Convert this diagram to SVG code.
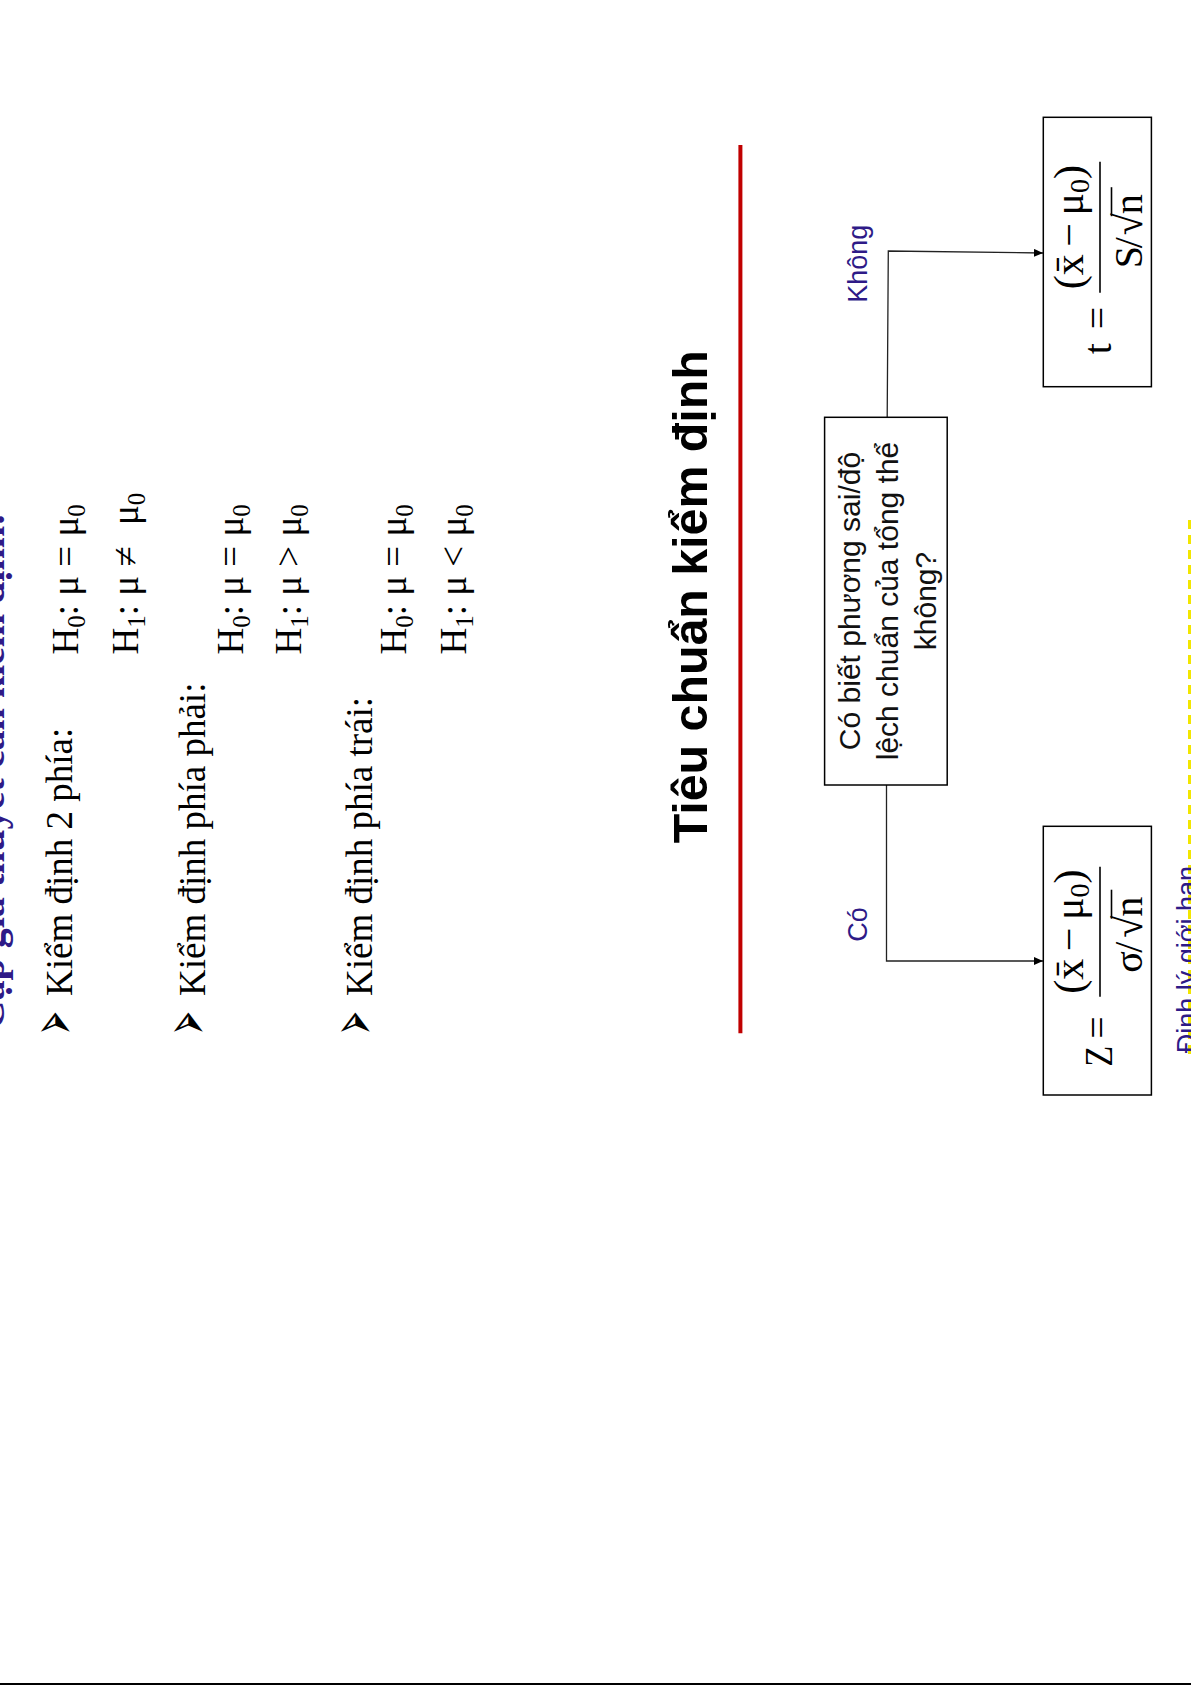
<svg xmlns="http://www.w3.org/2000/svg" width="1191" height="1685" viewBox="0 0 1191 1685">
<style>
.ser{font-family:"Liberation Serif","Times New Roman",serif;fill:#000}
.hyp{font-size:37px}
.sub{font-size:25px}
.sans{font-family:"Liberation Sans",Arial,sans-serif}
.blue{fill:#2E1A87}
.box{fill:#fff;stroke:#000;stroke-width:1.5}
.conn{fill:none;stroke:#222;stroke-width:1.3}
.math{font-family:"Liberation Serif","DejaVu Serif",serif;font-size:40px;fill:#000}
.num{font-size:42px}
.msub{font-size:28px}
.bar{stroke:#000;stroke-width:1.6}
.lbl{font-size:27px}
.q{font-size:30px;fill:#111}
.bul{font-family:"DejaVu Sans",sans-serif;font-size:66px;fill:#000}
</style>
<defs>
<marker id="ah" markerWidth="9" markerHeight="8" refX="9" refY="4" orient="auto" markerUnits="userSpaceOnUse"><path d="M0,0 L9,4 L0,8 Z" fill="#000"/></marker>
</defs>
<rect width="1191" height="1685" fill="#fff"/>

<g id="heading">
<text class="ser blue" font-weight="bold" font-size="40" transform="translate(4,1029.5) rotate(-90)">Cặp giả thuyết cần kiểm định:</text>
</g>

<g id="two-sided">
<text class="bul" textLength="24" lengthAdjust="spacingAndGlyphs" transform="translate(75.5,1035) rotate(-90)">➢</text>
<text class="ser hyp" transform="translate(72,996) rotate(-90)">Kiểm định 2 phía:</text>
<text class="ser hyp" transform="translate(77.5,654.5) rotate(-90)">H<tspan class="sub" dy="7">0</tspan><tspan dy="-7">: μ = μ</tspan><tspan class="sub" dy="7">0</tspan></text>
<text class="ser hyp" transform="translate(137.8,654.5) rotate(-90)">H<tspan class="sub" dy="7">1</tspan><tspan dy="-7">: μ ≠ </tspan><tspan dx="12">μ</tspan><tspan class="sub" dy="7">0</tspan></text>
</g>

<g id="right-sided">
<text class="bul" textLength="24" lengthAdjust="spacingAndGlyphs" transform="translate(208.5,1035) rotate(-90)">➢</text>
<text class="ser hyp" transform="translate(205,996) rotate(-90)">Kiểm định phía phải:</text>
<text class="ser hyp" transform="translate(242.8,654.5) rotate(-90)">H<tspan class="sub" dy="7">0</tspan><tspan dy="-7">: μ = μ</tspan><tspan class="sub" dy="7">0</tspan></text>
<text class="ser hyp" transform="translate(301,654.5) rotate(-90)">H<tspan class="sub" dy="7">1</tspan><tspan dy="-7">: μ &gt; μ</tspan><tspan class="sub" dy="7">0</tspan></text>
</g>

<g id="left-sided">
<text class="bul" textLength="24" lengthAdjust="spacingAndGlyphs" transform="translate(375.5,1035) rotate(-90)">➢</text>
<text class="ser hyp" transform="translate(372,996) rotate(-90)">Kiểm định phía trái:</text>
<text class="ser hyp" transform="translate(406,654.5) rotate(-90)">H<tspan class="sub" dy="7">0</tspan><tspan dy="-7">: μ = μ</tspan><tspan class="sub" dy="7">0</tspan></text>
<text class="ser hyp" transform="translate(466,654.5) rotate(-90)">H<tspan class="sub" dy="7">1</tspan><tspan dy="-7">: μ &lt; μ</tspan><tspan class="sub" dy="7">0</tspan></text>
</g>

<g id="title">
<text class="sans" font-weight="bold" font-size="49" textLength="493" lengthAdjust="spacingAndGlyphs" transform="translate(707,843.3) rotate(-90)">Tiêu chuẩn kiểm định</text>
<line x1="740.4" y1="145" x2="740.4" y2="1033.3" stroke="#C00000" stroke-width="4"/>
</g>

<g id="connectors">
<polyline class="conn" points="887.2,417.3 888.3,251 1043,253" marker-end="url(#ah)"/>
<polyline class="conn" points="886.5,785 886.5,961 1043,961" marker-end="url(#ah)"/>
</g>

<g id="label-khong">
<text class="sans blue lbl" transform="translate(867,302.7) rotate(-90)">Không</text>
</g>
<g id="label-co">
<text class="sans blue lbl" transform="translate(867,941.7) rotate(-90)">Có</text>
</g>

<g id="question">
<rect class="box" x="824.6" y="417.3" width="122.6" height="367.7"/>
<text class="sans q" text-anchor="middle" transform="translate(860,601) rotate(-90)">Có biết phương sai/độ</text>
<text class="sans q" text-anchor="middle" transform="translate(898,601) rotate(-90)">lệch chuẩn của tổng thể</text>
<text class="sans q" text-anchor="middle" transform="translate(935.5,601) rotate(-90)">không?</text>
</g>

<g id="t-box">
<rect class="box" x="1043.3" y="117.3" width="108.1" height="269.4"/>
<g transform="translate(1100,227.2) rotate(-90)">
<text class="math" x="-127" y="10.5">t</text>
<text class="math" x="-102" y="11">=</text>
<line class="bar" x1="-65.5" y1="0" x2="65.5" y2="0"/>
<text class="math num" x="0" y="-17.4" text-anchor="middle" word-spacing="-3">(x&#x304; − μ<tspan class="msub" dy="6">0</tspan><tspan dy="-6">)</tspan></text>
<text class="math" x="-41" y="42">S</text>
<text class="math" x="-21" y="42">/</text>
<text class="math" x="-8" y="42">√</text>
<text class="math" x="13" y="42">n</text>
<line class="bar" x1="11" y1="11.5" x2="40" y2="11.5"/>
</g>
</g>

<g id="z-box">
<rect class="box" x="1043.3" y="826.3" width="108.1" height="268.7"/>
<g transform="translate(1100,931.7) rotate(-90)">
<text class="math" font-size="38" x="-135" y="12.4" textLength="21" lengthAdjust="spacingAndGlyphs">Z</text>
<text class="math" x="-107" y="11">=</text>
<line class="bar" x1="-65" y1="0" x2="65" y2="0"/>
<text class="math num" x="0" y="-17.4" text-anchor="middle" word-spacing="-3">(x&#x304; − μ<tspan class="msub" dy="6">0</tspan><tspan dy="-6">)</tspan></text>
<text class="math" x="-41" y="42">σ</text>
<text class="math" x="-21" y="42">/</text>
<text class="math" x="-6" y="42">√</text>
<text class="math" x="15" y="42">n</text>
<line class="bar" x1="13" y1="11.5" x2="42" y2="11.5"/>
</g>
</g>

<g id="footer-link">
<line x1="1189.5" y1="520" x2="1189.5" y2="1060" stroke="#F2E600" stroke-width="3" stroke-dasharray="9 6"/>
<text class="sans blue lbl" transform="translate(1196,1053.3) rotate(-90)">Định lý giới hạn</text>
</g>

<g id="bottom-rule">
<line x1="0" y1="1684" x2="1191" y2="1684" stroke="#000" stroke-width="2"/>
</g>
</svg>
